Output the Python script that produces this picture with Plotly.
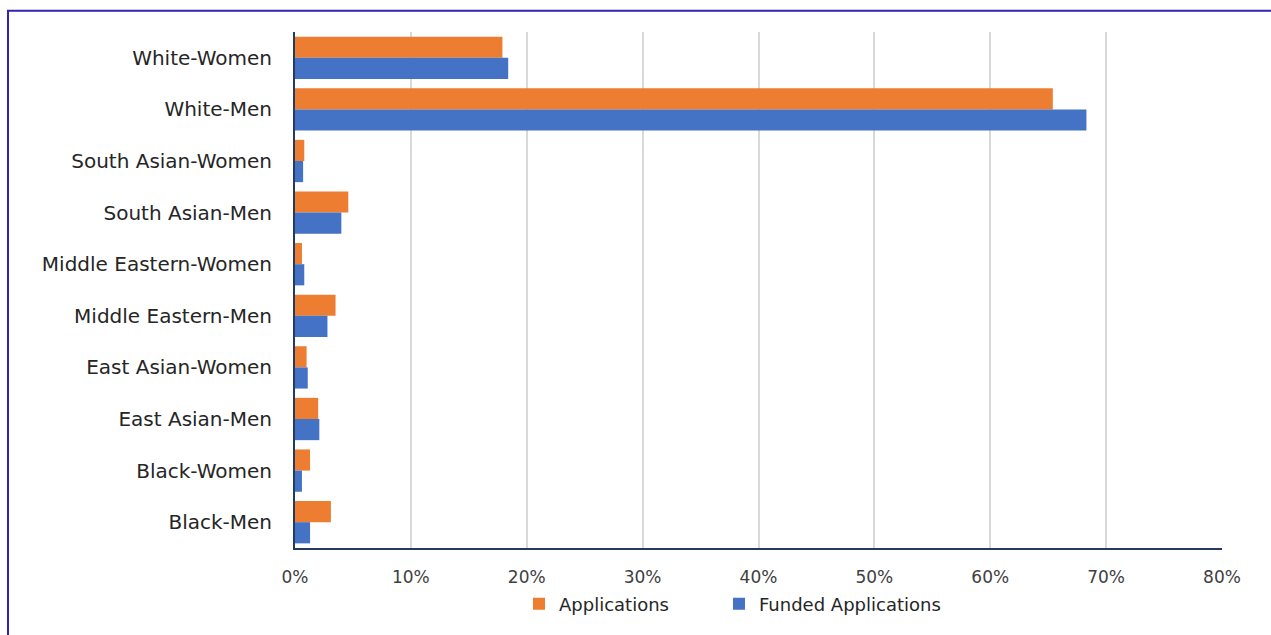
import plotly.graph_objects as go

# Category labels, top to bottom
groups = [
    "White-Women",
    "White-Men",
    "South Asian-Women",
    "South Asian-Men",
    "Middle Eastern-Women",
    "Middle Eastern-Men",
    "East Asian-Women",
    "East Asian-Men",
    "Black-Women",
    "Black-Men",
]

# Share of all applications (%)
applications = [17.9, 65.4, 0.8, 4.6, 0.6, 3.5, 1.0, 2.0, 1.3, 3.1]
# Share of funded applications (%)
funded = [18.4, 68.3, 0.7, 4.0, 0.8, 2.8, 1.1, 2.1, 0.6, 1.3]

x_ticks = [0, 10, 20, 30, 40, 50, 60, 70, 80]
x_tick_labels = [f"{v}%" for v in x_ticks]

W, H = 1271, 635
L, R, T, B = 295, 49, 32, 80
pw, ph = W - L - R, H - T - B


def px_x(p):
    return (p - L) / pw


def px_y(p):
    return (H - B - p) / ph


fig = go.Figure()
fig.add_trace(go.Bar(
    name="Applications", y=groups, x=applications, orientation="h",
    marker=dict(color="#ED7D31", line=dict(width=0)), legend="legend",
))
fig.add_trace(go.Bar(
    name="Funded Applications", y=groups, x=funded, orientation="h",
    marker=dict(color="#4472C4", line=dict(width=0)), legend="legend2",
))

legend_style = dict(
    orientation="h", xanchor="left", y=px_y(593), yanchor="top",
    font=dict(size=18, color="#262626"), itemwidth=30,
    bgcolor="rgba(0,0,0,0)",
)

fig.update_layout(
    width=W, height=H,
    margin=dict(l=L, r=R, t=T, b=B),
    paper_bgcolor="white", plot_bgcolor="white",
    barmode="group", bargap=0.18, bargroupgap=0,
    font=dict(family="DejaVu Sans", color="#262626"),
    showlegend=True,
    legend=dict(x=px_x(519), **legend_style),
    legend2=dict(x=px_x(719), **legend_style),
    xaxis=dict(
        range=[0, 80], tickvals=x_ticks, ticktext=x_tick_labels,
        showgrid=True, gridcolor="#d9d9d9", gridwidth=2,
        zeroline=False, showline=True, linecolor="#243a5e", linewidth=2,
        tickfont=dict(size=17, color="#404040"), ticks="", ticklabelstandoff=13,
        fixedrange=True,
    ),
    yaxis=dict(
        categoryorder="array", categoryarray=groups, autorange="reversed",
        showgrid=False, zeroline=False, showline=True, linecolor="#243a5e", linewidth=2,
        tickfont=dict(size=20, color="#262626"), ticks="", ticklabelstandoff=17,
    ),
    shapes=[
        dict(type="rect", xref="paper", yref="paper",
             x0=px_x(8), x1=px_x(1290), y0=px_y(660), y1=px_y(10.5),
             line=dict(color="#3024b0", width=2), fillcolor="rgba(0,0,0,0)", layer="above"),
    ],
)

fig.write_html("out.html")
